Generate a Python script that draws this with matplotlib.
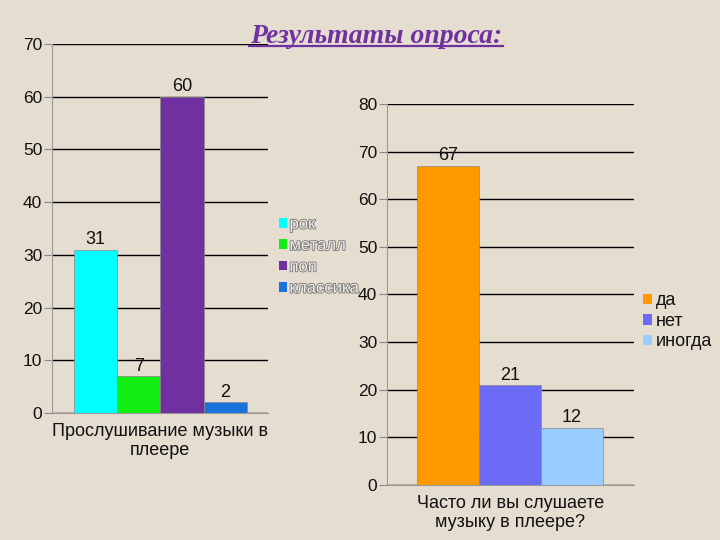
import matplotlib.pyplot as plt
import matplotlib.patheffects as pe
from matplotlib.patches import Patch

# Data
left_categories = ["рок", "металл", "поп", "классика"]
left_values = [31, 7, 60, 2]
left_colors = ["#00ffff", "#11ee11", "#7030a0", "#1a72dc"]
left_xlabel = "Прослушивание музыки в\nплеере"
left_yticks = [0, 10, 20, 30, 40, 50, 60, 70]

right_categories = ["да", "нет", "иногда"]
right_values = [67, 21, 12]
right_colors = ["#ff9900", "#6b6bf5", "#99ccff"]
right_xlabel = "Часто ли вы слушаете\nмузыку в плеере?"
right_yticks = [0, 10, 20, 30, 40, 50, 60, 70, 80]

title = "Результаты опроса:"

bg = "#e5ddd0"
plt.rcParams['font.family'] = ['Liberation Sans', 'DejaVu Sans']

fig = plt.figure(figsize=(7.2, 5.4), dpi=100, facecolor=bg)


def draw(ax, cats, vals, colors, xlabel, yticks, xlim):
    ax.set_facecolor('none')
    xs = list(range(len(vals)))
    bars = ax.bar(xs, vals, width=1.0, color=colors, edgecolor='#8a8a8a', linewidth=0.5, zorder=3)
    for x, v in zip(xs, vals):
        ax.text(x, v + 0.3, str(v), ha='center', va='bottom', fontsize=13, color='#111111', zorder=4)
    ax.set_ylim(0, yticks[-1])
    ax.set_xlim(*xlim)
    ax.set_yticks(yticks)
    ax.set_xticks([])
    ax.yaxis.grid(True, color='black', linewidth=1.0, zorder=0)
    ax.tick_params(axis='y', length=6, color='#888888', labelsize=12.5, labelcolor='#111111', pad=1)
    for s in ['top', 'right']:
        ax.spines[s].set_visible(False)
    ax.spines['left'].set_color('#9a9a9a')
    ax.spines['left'].set_linewidth(0.8)
    ax.spines['bottom'].set_color('#9a9a9a')
    ax.spines['bottom'].set_linewidth(0.8)
    ax.set_xlabel(xlabel, fontsize=13, color='#111111', labelpad=7, linespacing=1.2)
    return bars


ax1 = fig.add_axes([52 / 720, 1 - 413 / 540, 216 / 720, 369 / 540])
draw(ax1, left_categories, left_values, left_colors, left_xlabel, left_yticks, (-1.0, 3.99))

ax2 = fig.add_axes([387 / 720, 1 - 485 / 540, 247 / 720, 381 / 540])
draw(ax2, right_categories, right_values, right_colors, right_xlabel, right_yticks, (-0.98, 3.0))

# Left legend
h1 = [Patch(facecolor=c, edgecolor='none') for c in left_colors]
leg1 = fig.legend(h1, left_categories, loc='upper left', bbox_to_anchor=(272 / 720, 1 - 210 / 540),
                  frameon=False, fontsize=12, handlelength=0.5, handleheight=0.5,
                  handletextpad=0.15, labelspacing=0.38, borderaxespad=0)
for t in leg1.get_texts():
    t.set_color('#f0ece6')
    t.set_path_effects([pe.withStroke(linewidth=1.3, foreground='#7a7a7a')])

# Right legend
h2 = [Patch(facecolor=c, edgecolor='none') for c in right_colors]
leg2 = fig.legend(h2, right_categories, loc='upper left', bbox_to_anchor=(636 / 720, 1 - 285 / 540),
                  frameon=False, fontsize=13, handlelength=0.5, handleheight=0.5,
                  handletextpad=0.2, labelspacing=0.2, borderaxespad=0)
for t in leg2.get_texts():
    t.set_color('#111111')

# Title
fig.text(376 / 720, 1 - 43 / 540, title, ha='center', va='baseline', fontsize=20,
         family='Liberation Serif', style='italic', weight='bold', color='#7030a0')
fig.add_artist(plt.Line2D([249 / 720, 503 / 720], [1 - 46 / 540, 1 - 46 / 540],
                          color='#7030a0', linewidth=1.6, transform=fig.transFigure))

fig.savefig('out.png', dpi=100, facecolor=bg)
